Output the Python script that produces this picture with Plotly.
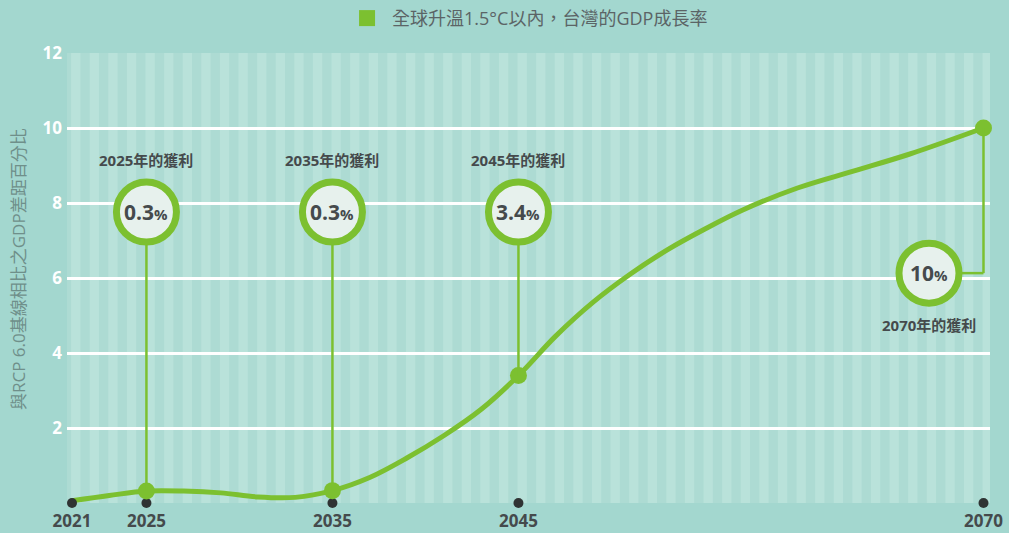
import plotly.graph_objects as go

# ---- data ----
years = [2021, 2023, 2025, 2027, 2029, 2031, 2033, 2035, 2037, 2039, 2041, 2043,
         2045, 2047, 2049, 2051, 2053, 2055, 2057, 2060, 2063, 2066, 2070]
gdp_gap = [0.06, 0.2, 0.32, 0.32, 0.27, 0.16, 0.15, 0.33, 0.68, 1.2, 1.8, 2.5,
           3.4, 4.45, 5.35, 6.1, 6.75, 7.3, 7.8, 8.4, 8.85, 9.3, 10.0]
highlight_years = [2025, 2035, 2045, 2070]
highlight_values = [0.32, 0.33, 3.4, 10.0]
highlight_labels = ["0.3", "0.3", "3.4", "10"]
callout_titles = ["2025年的獲利", "2035年的獲利", "2045年的獲利", "2070年的獲利"]
xtick_years = [2021, 2025, 2035, 2045, 2070]
ytick_vals = [2, 4, 6, 8, 10, 12]
series_name = "全球升溫1.5°C以內，台灣的GDP成長率"
y_title = "與RCP 6.0基線相比之GDP差距百分比"

GREEN = "#7cc030"
DARK = "#454a4c"
FONT = "Open Sans, Noto Sans CJK TC, sans-serif"

fig = go.Figure()

# stripes (one per year)
shapes = []
for yr in range(2020, 2071):
    shapes.append(dict(type="rect", xref="x", yref="y", x0=yr + 0.45, x1=yr + 0.95,
                       y0=0, y1=12, fillcolor="#addbd3", line_width=0, layer="below"))

fig.add_trace(go.Scatter(x=years, y=gdp_gap, mode="lines", name=series_name,
                         line=dict(color=GREEN, width=5, shape="spline", smoothing=1.0),
                         showlegend=False, cliponaxis=False))

# dark dots on baseline
fig.add_trace(go.Scatter(x=xtick_years, y=[0] * len(xtick_years), mode="markers",
                         marker=dict(color="#2f3333", size=10), showlegend=False,
                         cliponaxis=False))

# callout positions (year, value) for circles
circ_x = [2025, 2035, 2045, 2067.07]
circ_y = [7.76, 7.76, 7.76, 6.13]
px_per_unit = 37.5
px_per_year = 18.6
R = 30

annotations = []
for i, (cx, cy) in enumerate(zip(circ_x, circ_y)):
    hx, hv = highlight_years[i], highlight_values[i]
    if i < 3:
        shapes.append(dict(type="line", xref="x", yref="y", x0=hx, x1=hx,
                           y0=hv, y1=cy - R / px_per_unit,
                           line=dict(color=GREEN, width=2.5)))
        ty = cy + 52 / px_per_unit
    else:
        shapes.append(dict(type="line", xref="x", yref="y", x0=cx + R / px_per_year, x1=hx,
                           y0=cy, y1=cy, line=dict(color=GREEN, width=2.5)))
        shapes.append(dict(type="line", xref="x", yref="y", x0=hx, x1=hx,
                           y0=cy, y1=hv, line=dict(color=GREEN, width=2.5)))
        ty = cy - 52 / px_per_unit
    shapes.append(dict(type="circle", xref="x", yref="y", xsizemode="pixel", ysizemode="pixel",
                       xanchor=cx, yanchor=cy, x0=-R, x1=R, y0=-R, y1=R,
                       fillcolor="#e7f1ed", line=dict(color=GREEN, width=7)))
    annotations.append(dict(x=cx, y=cy, xref="x", yref="y", showarrow=False,
                            text=f"<b>{highlight_labels[i]}<span style='font-size:15px'>%</span></b>",
                            font=dict(family=FONT, size=21, color=DARK)))
    annotations.append(dict(x=cx, y=ty, xref="x", yref="y", showarrow=False,
                            text=f"<b>{callout_titles[i]}</b>",
                            font=dict(family=FONT, size=15, color=DARK)))

fig.add_trace(go.Scatter(x=highlight_years, y=highlight_values, mode="markers",
                         marker=dict(color=GREEN, size=17), showlegend=False,
                         cliponaxis=False))

# legend-like header
fig.add_trace(go.Scatter(x=[None], y=[None], mode="markers", name=series_name,
                         marker=dict(color=GREEN, symbol="square", size=16),
                         showlegend=True))

annotations.append(dict(x=(18 - 67) / 923, y=0.52, xref="paper", yref="paper",
                        xanchor="center", yanchor="middle",
                        text=y_title, textangle=-90, showarrow=False,
                        font=dict(family=FONT, size=17, color="#6f8f8a")))

fig.update_layout(
    width=1009, height=533,
    margin=dict(l=67, r=19, t=53, b=30, autoexpand=False),
    paper_bgcolor="#a3d7cf",
    plot_bgcolor="#b9e2da",
    font=dict(family=FONT),
    shapes=shapes,
    annotations=annotations,
    legend=dict(orientation="h", x=0.298, y=1.118, xanchor="left", yanchor="top",
                bgcolor="rgba(0,0,0,0)", itemwidth=40,
                font=dict(family=FONT, size=18, color="#5b6466")),
    xaxis=dict(range=[2020.73, 2070.35], tickvals=xtick_years,
               ticktext=[f"<b>{y}</b>" for y in xtick_years],
               showgrid=False, zeroline=False, showline=False, ticklabelstandoff=6,
               tickfont=dict(family=FONT, size=17, color=DARK), ticks=""),
    yaxis=dict(range=[0, 12], tickvals=[0] + ytick_vals,
               ticktext=[""] + [f"<b>{v}</b>" for v in ytick_vals],
               showgrid=True, gridcolor="#ffffff", gridwidth=2.5, zeroline=False,
               showline=False, ticks="", ticklabelstandoff=4,
               tickfont=dict(family=FONT, size=17, color="#ffffff")),
)

fig.write_html("out.html", config={"displayModeBar": False},
               post_script="document.body.style.margin='0';document.body.style.overflow='hidden';")
